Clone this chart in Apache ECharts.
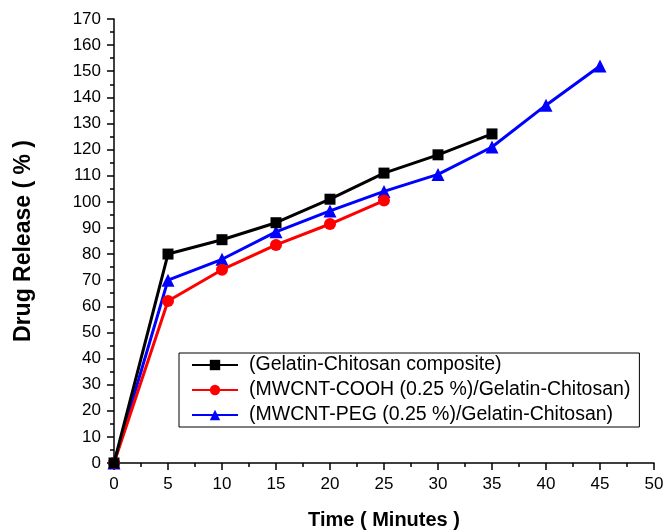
<!DOCTYPE html>
<html><head><meta charset="utf-8">
<script src="https://cdn.jsdelivr.net/npm/echarts@6/dist/echarts.min.js"></script>
<style>html,body{margin:0;padding:0;background:#fff}#c{width:665px;height:530px}</style>
</head><body><div id="c"></div>
<script>
const times = [0, 5, 10, 15, 20, 25, 30, 35, 40, 45];
const seriesNames = ['(Gelatin-Chitosan composite)', '(MWCNT-COOH (0.25 %)/Gelatin-Chitosan)', '(MWCNT-PEG (0.25 %)/Gelatin-Chitosan)'];
const gelatinChitosan = [0, 80, 85.5, 92, 101, 111, 118, 126];
const mwcntCooh = [0, 62, 74, 83.5, 91.5, 100.5];
const mwcntPeg = [0, 70, 78, 88.5, 96.5, 104, 110.5, 121, 137, 152];
const colors = ['#000000', '#ff0000', '#0000ff'];
const symbols = ['rect', 'circle', 'triangle'];
const symbolSizes = [11, 12, 13];

function pairs(vals){ return vals.map((v,i)=>[times[i], v]); }
const allData = [gelatinChitosan, mwcntCooh, mwcntPeg];

const chart = echarts.init(document.getElementById('c'));
const font = 'Arial, "Liberation Sans", sans-serif';
chart.setOption({
  animation: false,
  grid: {left: 114, right: 11, top: 19, bottom: 67, containLabel: false, outerBoundsMode: 'none'},
  xAxis: {
    type: 'value', min: 0, max: 50, interval: 5,
    name: 'Time ( Minutes )', nameLocation: 'middle', nameGap: 47,
    nameTextStyle: {fontFamily: font, fontWeight: 'bold', fontSize: 20, color: '#000'},
    axisLine: {lineStyle: {color: '#000', width: 1.5}},
    axisTick: {show: true, inside: false, length: 7, lineStyle: {color: '#000', width: 1.5}},
    minorTick: {show: true, splitNumber: 2, length: 4, lineStyle: {color: '#000', width: 1.5}},
    axisLabel: {fontFamily: font, fontSize: 17, color: '#000', margin: 13},
    splitLine: {show: false}
  },
  yAxis: {
    type: 'value', min: 0, max: 170, interval: 10,
    name: 'Drug Release ( % )', nameLocation: 'middle', nameGap: 79,
    nameTextStyle: {fontFamily: font, fontWeight: 'bold', fontSize: 23, color: '#000'},
    axisLine: {show: true, lineStyle: {color: '#000', width: 1.5}},
    axisTick: {show: true, inside: false, length: 7, lineStyle: {color: '#000', width: 1.5}},
    minorTick: {show: true, splitNumber: 2, length: 4, lineStyle: {color: '#000', width: 1.5}},
    axisLabel: {fontFamily: font, fontSize: 17, color: '#000', margin: 13},
    splitLine: {show: false}
  },
  legend: {
    orient: 'vertical', left: 179, top: 353,
    padding: [2, 9, 2, 12], itemGap: 5,
    itemWidth: 46, itemHeight: 13,
    borderColor: '#000', borderWidth: 1,
    textStyle: {fontFamily: font, fontSize: 19.5, lineHeight: 19, color: '#000', padding: [0, 0, 0, 6]},
    data: seriesNames
  },
  series: seriesNames.map((n, i) => ({
    name: n, type: 'line', data: pairs(allData[i]),
    symbol: symbols[i], symbolSize: symbolSizes[i], showSymbol: true,
    lineStyle: {color: colors[i], width: 3},
    itemStyle: {color: colors[i]},
    z: 3 - i
  }))
});
</script></body></html>
